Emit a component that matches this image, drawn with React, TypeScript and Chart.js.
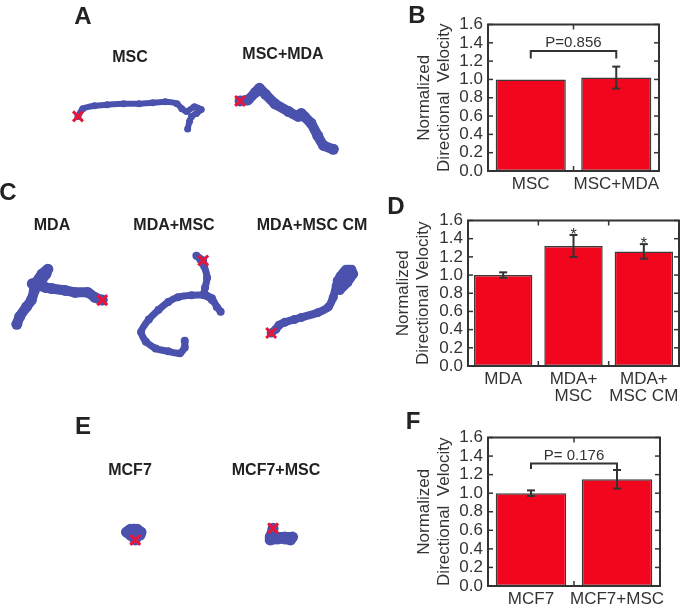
import React, { useEffect, useRef } from "react";
import { Chart, registerables } from "chart.js";

Chart.register(...registerables);

const FONT = '"Liberation Sans", Arial, Helvetica, sans-serif';
Chart.defaults.font.family = FONT;
Chart.defaults.color = "#333";

// ---------- Bar chart data ----------
const yTickLabels = ["0.0", "0.2", "0.4", "0.6", "0.8", "1.0", "1.2", "1.4", "1.6"];

// Panel B
const bCategories = ["MSC", "MSC+MDA"];
const bValues = [1.0, 1.02];
const bErrors = [0, 0.12];
const bPText = "P=0.856";
const bBracketLevel = 1.31;

// Panel D
const dCategories = ["MDA", ["MDA+", "MSC"], ["MDA+", "MSC CM"]];
const dValues = [1.0, 1.32, 1.26];
const dErrors = [0.03, 0.12, 0.08];
const dStars = [false, true, true];

// Panel F
const fCategories = ["MCF7", "MCF7+MSC"];
const fValues = [1.0, 1.15];
const fErrors = [0.03, 0.1];
const fPText = "P= 0.176";
const fBracketLevel = 1.32;

// ---------- Trajectory data (displacement from start point, image y down) ----------
const trajMSC = [[0, 0], [5, -8], [17, -11], [30, -12], [47, -13], [63, -13], [77, -14], [90, -15], [102, -13], [107, -8], [112, -5], [120, -10], [127, -7], [122, -3], [117, 0], [115, 5], [113, 13]];
const trajMSCMDA = [[0, 0], [8, -1], [16, -9], [20, -13], [26, -7], [36, 3], [50, 11], [60, 16], [63, 13], [66, 16], [73, 23], [80, 36], [86, 46], [96, 50]];
const trajMDA = [[0, 0], [-8, -3], [-15, -8], [-28, -8], [-38, -10], [-52, -12], [-58, -13], [-65, -15], [-72, -17], [-63, -20], [-58, -27], [-56, -32], [-62, -27], [-68, -18], [-70, -10], [-73, 0], [-78, 7], [-85, 17], [-88, 25]];
const trajMDAMSC = [[0, 0], [-7, -5], [-3, -1], [1, 6], [4, 18], [2, 28], [1, 34], [9, 39], [14, 48], [18, 53], [9, 41], [1, 36], [-12, 36], [-26, 38], [-36, 43], [-46, 51], [-56, 61], [-64, 74], [-59, 84], [-49, 91], [-36, 94], [-24, 96], [-19, 90], [-19, 83]];
const trajMDAMSCCM = [[0, 0], [5, -4], [8, -8], [14, -11], [24, -14], [31, -16], [48, -21], [59, -27], [64, -37], [67, -49], [71, -59], [77, -66], [83, -66], [85, -61], [79, -52], [71, -44], [68, -54], [74, -62], [78, -58], [73, -50]];
const trajMCF7 = [[0, 0], [-5, -5], [-9, -8], [-5, -11], [2, -11], [6, -8], [5, -5], [0, -6]];
const trajMCF7MSC = [[0, 0], [-3, 9], [-3, 12], [5, 11], [12, 11], [18, 12], [20, 9], [12, 9], [2, 9]];

// ---------- Layout / style ----------
const BAR_RED = "#f2061d";
const TRAJ_BLUE = "#4a52ad";
const START_RED = "#e8153a";

const trajectoryLayout = [
  { points: trajMSC, at: [70, 110], width: 6 },
  { points: trajMSCMDA, at: [237, 94], width: 10 },
  { points: trajMDA, at: [95, 300], width: 10 },
  { points: trajMDAMSC, at: [199, 259], width: 7 },
  { points: trajMDAMSCCM, at: [269, 334], width: 8 },
  { points: trajMCF7, at: [129, 548], width: 10 },
  { points: trajMCF7MSC, at: [271, 536], width: 10 },
];

const panelLetters = [
  { t: "A", x: 83, y: 16 },
  { t: "B", x: 417, y: 15 },
  { t: "C", x: 8, y: 192 },
  { t: "D", x: 396, y: 206 },
  { t: "E", x: 83, y: 426 },
  { t: "F", x: 413, y: 421 },
];

const trajTitles = [
  { t: "MSC", x: 130, y: 57 },
  { t: "MSC+MDA", x: 283, y: 54 },
  { t: "MDA", x: 52, y: 225 },
  { t: "MDA+MSC", x: 174, y: 225 },
  { t: "MDA+MSC CM", x: 312, y: 225 },
  { t: "MCF7", x: 130, y: 470 },
  { t: "MCF7+MSC", x: 276, y: 470 },
];

type BarCfg = {
  categories: any[];
  values: number[];
  errors: number[];
  stars?: boolean[];
  bracket?: { from: number; to: number; level: number; drop: number; text: string };
  titleText: string[];
  box: { left: number; top: number; width: number; height: number };
  yAxisWidth: number;
  xAxisHeight: number;
  padTop: number;
  padRight: number;
  barPct: number;
};

const barPanels: BarCfg[] = [
  {
    categories: bCategories,
    values: bValues,
    errors: bErrors,
    bracket: { from: 0, to: 1, level: bBracketLevel, drop: 0.08, text: bPText },
    titleText: ["Normalized", "Directional  Velocity"],
    box: { left: 410, top: 11, width: 265, height: 188 },
    yAxisWidth: 78,
    xAxisHeight: 28,
    padTop: 12,
    padRight: 16,
    barPct: 0.82,
  },
  {
    categories: dCategories,
    values: dValues,
    errors: dErrors,
    stars: dStars,
    titleText: ["Normalized", "Directional Velocity"],
    box: { left: 389, top: 207, width: 296, height: 199 },
    yAxisWidth: 79,
    xAxisHeight: 40,
    padTop: 12,
    padRight: 6,
    barPct: 0.83,
  },
  {
    categories: fCategories,
    values: fValues,
    errors: fErrors,
    bracket: { from: 0, to: 1, level: fBracketLevel, drop: 0.06, text: fPText },
    titleText: ["Normalized", "Directional  Velocity"],
    box: { left: 410, top: 424, width: 266, height: 183 },
    yAxisWidth: 78,
    xAxisHeight: 21,
    padTop: 12,
    padRight: 16,
    barPct: 0.82,
  },
];

function makeDecor(cfg: BarCfg) {
  return {
    id: "decor",
    afterDatasetsDraw(chart: any) {
      const { ctx, chartArea: a, scales } = chart;
      const x = scales.x;
      const y = scales.y;
      const line = (x1: number, y1: number, x2: number, y2: number) => {
        ctx.beginPath();
        ctx.moveTo(x1, y1);
        ctx.lineTo(x2, y2);
        ctx.stroke();
      };
      ctx.save();
      ctx.strokeStyle = "#333";
      // inward ticks
      ctx.lineWidth = 1.5;
      y.ticks.forEach((t: any) => {
        const py = y.getPixelForValue(t.value);
        line(a.left, py, a.left + 5, py);
        line(a.right, py, a.right - 5, py);
      });
      for (let i = 0; i < cfg.values.length - 1; i++) {
        const px = (x.getPixelForValue(i) + x.getPixelForValue(i + 1)) / 2;
        line(px, a.bottom, px, a.bottom - 5);
        line(px, a.top, px, a.top + 5);
      }
      // frame
      ctx.lineWidth = 2;
      ctx.strokeRect(a.left, a.top, a.right - a.left, a.bottom - a.top);
      // error bars
      ctx.lineWidth = 2;
      cfg.errors.forEach((e, i) => {
        if (!e) return;
        const px = x.getPixelForValue(i);
        const top = y.getPixelForValue(cfg.values[i] + e);
        const bot = y.getPixelForValue(cfg.values[i] - e);
        line(px, top, px, bot);
        line(px - 4, top, px + 4, top);
        line(px - 4, bot, px + 4, bot);
        if (cfg.stars && cfg.stars[i]) {
          ctx.fillStyle = "#333";
          ctx.font = `16px ${FONT}`;
          ctx.textAlign = "center";
          ctx.textBaseline = "alphabetic";
          ctx.fillText("*", px, top + 5);
        }
      });
      // bracket
      if (cfg.bracket) {
        const { from, to, level, drop, text } = cfg.bracket;
        const x1 = x.getPixelForValue(from);
        const x2 = x.getPixelForValue(to);
        const yb = y.getPixelForValue(level);
        const ye = y.getPixelForValue(level - drop);
        ctx.lineWidth = 2;
        ctx.beginPath();
        ctx.moveTo(x1, ye);
        ctx.lineTo(x1, yb);
        ctx.lineTo(x2, yb);
        ctx.lineTo(x2, ye);
        ctx.stroke();
        ctx.fillStyle = "#333";
        ctx.font = `15px ${FONT}`;
        ctx.textAlign = "center";
        ctx.textBaseline = "middle";
        ctx.fillText(text, (x1 + x2) / 2, yb - 8);
      }
      ctx.restore();
    },
  };
}

function BarPanel({ cfg }: { cfg: BarCfg }) {
  const ref = useRef<HTMLCanvasElement>(null);
  useEffect(() => {
    const chart = new Chart(ref.current as HTMLCanvasElement, {
      type: "bar",
      data: {
        labels: cfg.categories,
        datasets: [
          {
            data: cfg.values,
            backgroundColor: BAR_RED,
            borderColor: "#3a3a3a",
            borderWidth: 1.5,
            borderSkipped: false,
            barPercentage: cfg.barPct,
            categoryPercentage: 1,
          } as any,
        ],
      },
      options: {
        responsive: false,
        animation: false,
        devicePixelRatio: 1,
        layout: { padding: { top: cfg.padTop, right: cfg.padRight, left: 0, bottom: 0 } },
        plugins: { legend: { display: false }, tooltip: { enabled: false } },
        scales: {
          x: {
            grid: { display: false, drawTicks: false },
            border: { display: false },
            ticks: {
              font: { size: 17, lineHeight: 1.0 },
              color: "#333",
              padding: 5,
              maxRotation: 0,
              autoSkip: false,
            },
            afterFit: (s: any) => {
              s.height = cfg.xAxisHeight;
            },
          },
          y: {
            min: 0,
            max: 1.6,
            grid: { display: false, drawTicks: false },
            border: { display: false },
            ticks: {
              stepSize: 0.2,
              autoSkip: false,
              font: { size: 17, lineHeight: 1.0 },
              color: "#333",
              padding: 5,
              callback: (_v: any, i: number) => yTickLabels[i],
            },
            title: {
              display: true,
              text: cfg.titleText,
              font: { size: 17, lineHeight: 1.15 },
              color: "#333",
              padding: { top: 5, bottom: 0 },
            },
            afterFit: (s: any) => {
              s.width = cfg.yAxisWidth;
            },
          },
        } as any,
      },
      plugins: [makeDecor(cfg)],
    });
    return () => chart.destroy();
  }, []);
  const b = cfg.box;
  return (
    <canvas
      ref={ref}
      width={b.width}
      height={b.height}
      style={{ position: "absolute", left: b.left, top: b.top, width: b.width, height: b.height }}
    />
  );
}

function TrajectoryLayer() {
  const ref = useRef<HTMLCanvasElement>(null);
  useEffect(() => {
    const datasets: any[] = [];
    trajectoryLayout.forEach((t) => {
      datasets.push({
        data: [{ x: t.at[0], y: t.at[1] }],
        pointStyle: "crossRot",
        pointRadius: 7,
        borderColor: START_RED,
        backgroundColor: START_RED,
        pointBorderWidth: 3,
        showLine: false,
        order: 0,
      });
      datasets.push({
        data: t.points.map((p) => ({ x: t.at[0] + p[0], y: t.at[1] + p[1] })),
        showLine: true,
        borderColor: TRAJ_BLUE,
        backgroundColor: TRAJ_BLUE,
        borderWidth: t.width,
        borderCapStyle: "round",
        borderJoinStyle: "round",
        tension: 0.2,
        pointRadius: t.width / 2 + 0.5,
        pointBorderWidth: 0,
        order: 1,
      });
    });
    const chart = new Chart(ref.current as HTMLCanvasElement, {
      type: "scatter",
      data: { datasets },
      options: {
        responsive: false,
        animation: false,
        devicePixelRatio: 1,
        layout: { padding: 0 },
        plugins: { legend: { display: false }, tooltip: { enabled: false } },
        scales: {
          x: { type: "linear", min: 0, max: 685, display: false },
          y: { type: "linear", min: 0, max: 607, reverse: true, display: false },
        },
      },
    });
    return () => chart.destroy();
  }, []);
  return (
    <canvas
      ref={ref}
      width={685}
      height={607}
      style={{ position: "absolute", left: 0, top: 0, width: 685, height: 607 }}
    />
  );
}

export default function App() {
  return (
    <div
      style={{
        position: "fixed",
        left: 0,
        top: 0,
        width: 685,
        height: 607,
        background: "#fff",
        overflow: "hidden",
        fontFamily: FONT,
      }}
    >
      <TrajectoryLayer />
      {barPanels.map((cfg, i) => (
        <BarPanel key={i} cfg={cfg} />
      ))}
      {panelLetters.map((l) => (
        <div
          key={l.t}
          style={{
            position: "absolute",
            left: l.x,
            top: l.y,
            transform: "translate(-50%, -50%)",
            font: `bold 24px ${FONT}`,
            lineHeight: 1,
            color: "#222",
            whiteSpace: "nowrap",
          }}
        >
          {l.t}
        </div>
      ))}
      {trajTitles.map((l) => (
        <div
          key={l.t}
          style={{
            position: "absolute",
            left: l.x,
            top: l.y,
            transform: "translate(-50%, -50%)",
            font: `bold 16px ${FONT}`,
            lineHeight: 1,
            color: "#222",
            whiteSpace: "nowrap",
          }}
        >
          {l.t}
        </div>
      ))}
    </div>
  );
}
